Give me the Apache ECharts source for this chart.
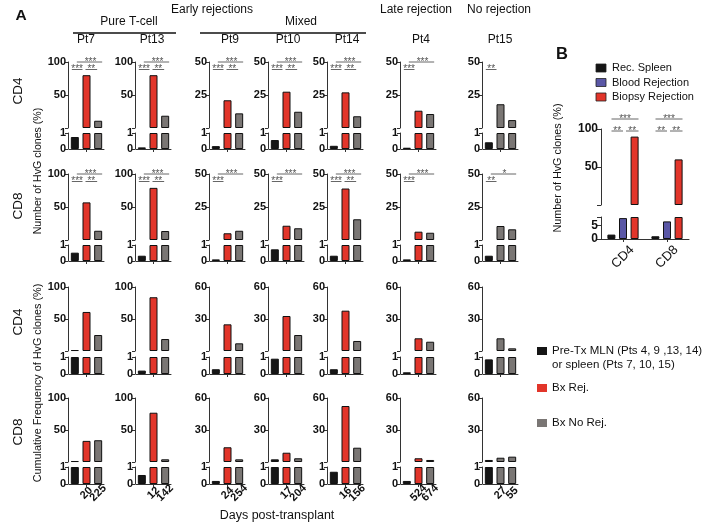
<!DOCTYPE html>
<html><head><meta charset="utf-8">
<script src="https://cdn.jsdelivr.net/npm/echarts@6/dist/echarts.min.js"></script>
<style>html,body{margin:0;padding:0;background:#fff}#c{width:705px;height:530px}</style>
</head><body><div id="c"></div><script>
// ---------- DATA ----------
const patients = ['Pt7','Pt13','Pt9','Pt10','Pt14','Pt4','Pt15'];
// bar order per patient: [pre-Tx MLN / spleen, Bx Rej. (Pt15: Bx No Rej.), Bx No Rej.]
const cd4Number     = [[0.75,80,11],[0.1,80,18.6],[0.18,21,11.1],[0.56,27.5,12.3],[0.2,27,8.9],[0.08,13.1,10.6],[0.42,18,6]];
const cd8Number     = [[0.52,57,14],[0.33,79,13.6],[0.1,5.1,7],[0.73,10.8,8.9],[0.33,39,15.7],[0.1,6.3,5.5],[0.33,10.6,8.1]];
const cd4Cumulative = [[1.5,61,25],[0.2,84,18.7],[0.28,25,7.2],[0.9,32.8,15],[0.28,37.8,9.4],[0.1,11.9,8.7],[0.86,11.9,2.5]];
const cd8Cumulative = [[1.5,33,34],[0.53,77,4.2],[0.18,13.8,2.5],[2.5,8.7,3.5],[0.72,52.5,13.4],[0.18,3.5,1.9],[1.9,4,5]];
const daysPost = [['20','225'],['12','142'],['24','254'],['17','204'],['16','156'],['524','674'],['27','55']];
const numberMax = [100,100,50,50,50,50,50];
const cumulativeMax = [100,100,60,60,60,60,60];
const lowerMax = 1;
// significance: [from, to, stars, level]
const S3 = [[0,2,'***',0],[0,1,'***',1],[1,2,'**',1]];
const S2 = [[0,2,'***',0],[0,1,'***',1]];
const sigCD4Number = [S3,S3,S3,S3,S3,S2,[[0,1,'**',1]]];
const sigCD8Number = [S3,S3,S2,S2,S3,S2,[[0,2,'*',0],[0,1,'**',1]]];
// Panel B
const bCategories = ['CD4','CD8'];
const bSeriesNames = ['Rec. Spleen','Blood Rejection','Biopsy Rejection'];
const bRecSpleen = [1.6,1.0];
const bBloodRejection = [7.6,6.4];
const bBiopsyRejection = [90,60];
const bLowerMax = 8;
const bUpperMax = 100;

// ---------- STYLE / LAYOUT ----------
const FONT = "'Liberation Sans', Arial, Helvetica, sans-serif";
const C = {black:'#151515', red:'#e2352a', gray:'#7a7674', blue:'#5a57a6', axis:'#333'};
const colColors = patients.map((p,i)=> i===6 ? [C.black,C.gray,C.gray] : [C.black,C.red,C.gray]);
const colX = [68,135,209,268,327,400,482];
const rows = [
  {data:cd4Number, max:numberMax, upTop:62, upH:66, loTop:133, loH:16, sig:sigCD4Number},
  {data:cd8Number, max:numberMax, upTop:174, upH:66, loTop:245, loH:16, sig:sigCD8Number},
  {data:cd4Cumulative, max:cumulativeMax, upTop:287, upH:64, loTop:357, loH:17, sig:null},
  {data:cd8Cumulative, max:cumulativeMax, upTop:398, upH:64, loTop:467, loH:17, sig:null, labels:true}
];

const grid=[], xAxis=[], yAxis=[], series=[];
const axisLine = {show:true, lineStyle:{color:C.axis, width:1}};
const barItem = {borderColor:'#111', borderWidth:1};
const refs = [];
rows.forEach((row,r)=>{
  refs.push([]);
  colX.forEach((x,c)=>{
    const vals = row.data[c];
    const max = row.max[c];
    // upper segment
    const gu = grid.length;
    grid.push({left:x+1, top:row.upTop, width:35, height:row.upH});
    xAxis.push({type:'category', gridIndex:gu, data:['a','b','c'], show:false});
    yAxis.push({type:'value', gridIndex:gu, min:0, max:max, interval:max/2, offset:1,
      axisLine, axisTick:{show:true, length:3, lineStyle:{color:C.axis}}, splitLine:{show:false},
      axisLabel:{formatter:v=> v===0?'':String(v), fontSize:11, fontWeight:'bold', color:'#111', margin:2, fontFamily:FONT}});
    series.push({type:'bar', xAxisIndex:gu, yAxisIndex:gu, barWidth:8, silent:true,
      data: vals.map((v,i)=>({value: v>lowerMax ? v : '-', itemStyle:Object.assign({color:colColors[c][i]},barItem)}))});
    // lower segment
    const gl = grid.length;
    grid.push({left:x+1, top:row.loTop, width:35, height:row.loH});
    xAxis.push({type:'category', gridIndex:gl, data: row.labels ? ['',daysPost[c][0],daysPost[c][1]] : ['','',''],
      axisLine, axisTick:{show:true, interval:(i)=>i===1, alignWithLabel:true, length:3, lineStyle:{color:C.axis}},
      axisLabel:{show:!!row.labels, interval:0, rotate:45, align:'center', verticalAlign:'middle',
        fontSize:11, fontWeight:'bold', color:'#111', margin:9, fontFamily:FONT}});
    yAxis.push({type:'value', gridIndex:gl, min:0, max:lowerMax, interval:1, offset:1,
      axisLine, axisTick:{show:true, length:3, lineStyle:{color:C.axis}}, splitLine:{show:false},
      axisLabel:{fontSize:11, fontWeight:'bold', color:'#111', margin:2, fontFamily:FONT}});
    series.push({type:'bar', xAxisIndex:gl, yAxisIndex:gl, barWidth:8, silent:true,
      data: vals.map((v,i)=>({value: Math.min(v,lowerMax), itemStyle:Object.assign({color:colColors[c][i]},barItem)}))});
    refs[r].push({gu, gl, max});
  });
});

// Panel B
const bVals = [bRecSpleen,bBloodRejection,bBiopsyRejection];
const bCols = [C.black,C.blue,C.red];
const bgu = grid.length;
grid.push({left:601, top:129, width:88, height:76});
xAxis.push({type:'category', gridIndex:bgu, data:bCategories, show:false});
yAxis.push({type:'value', gridIndex:bgu, min:0, max:bUpperMax, interval:50,
  axisLine, axisTick:{show:true,length:4,lineStyle:{color:C.axis}}, splitLine:{show:false},
  axisLabel:{formatter:v=> v===0?'':String(v), fontSize:12, fontWeight:'bold', color:'#111', margin:3, fontFamily:FONT}});
const bgl = grid.length;
grid.push({left:601, top:217, width:88, height:22});
xAxis.push({type:'category', gridIndex:bgl, data:bCategories, axisLine,
  axisTick:{show:true, alignWithLabel:true, length:3, lineStyle:{color:C.axis}},
  axisLabel:{rotate:45, align:'center', verticalAlign:'middle', fontSize:13, color:'#111', margin:18, fontFamily:FONT}});
yAxis.push({type:'value', gridIndex:bgl, min:0, max:bLowerMax, interval:5,
  axisLine, axisTick:{show:true,length:4,lineStyle:{color:C.axis}}, splitLine:{show:false},
  axisLabel:{formatter:v=> (v===0||v===5)?String(v):'', fontSize:12, fontWeight:'bold', color:'#111', margin:3, fontFamily:FONT}});
bVals.forEach((arr,k)=>{
  series.push({type:'bar', name:bSeriesNames[k], xAxisIndex:bgu, yAxisIndex:bgu, barWidth:8, barGap:'45%', silent:true,
    itemStyle:Object.assign({color:bCols[k]},barItem), data:arr.map(v=> v>bLowerMax? v : '-')});
  series.push({type:'bar', name:bSeriesNames[k], xAxisIndex:bgl, yAxisIndex:bgl, barWidth:8, barGap:'45%', silent:true,
    itemStyle:Object.assign({color:bCols[k]},barItem), data:arr.map(v=> Math.min(v,bLowerMax))});
});

const option = {animation:false, textStyle:{fontFamily:FONT}, grid, xAxis, yAxis, series};
const chart = echarts.init(document.getElementById('c'), null, {renderer:'canvas'});
chart.setOption(option);

// ---------- ANNOTATIONS ----------
function txt(t,x,y,size,opts){
  opts = opts||{};
  return {type:'text', x, y, rotation:opts.rot||0, silent:true,
    style:{text:t, fontSize:size, fontFamily:FONT, fontWeight:opts.bold?'bold':'normal', fill:opts.fill||'#111',
      align:opts.align||'center', verticalAlign:opts.va||'middle', textAlign:opts.align||'center', textVerticalAlign:opts.va||'middle'}};
}
function ln(x1,y1,x2,y2,w,col){
  return {type:'line', silent:true, shape:{x1,y1,x2,y2}, style:{stroke:col||'#111', lineWidth:w||1}};
}
const g = [];
g.push(txt('A',21,15.5,15.5,{bold:true}));
g.push(txt('Early rejections',212,10,12));
g.push(txt('Late rejection',416,10,12));
g.push(txt('No rejection',499,10,12));
g.push(txt('Pure T-cell',129,21.5,12));
g.push(txt('Mixed',301,21.5,12));
g.push(ln(73,33,176,33,1.5));
g.push(ln(200,33,366,33,1.5));
const ptX = [86,152,230,288,347,421,500];
patients.forEach((p,i)=>g.push(txt(p,ptX[i],39.5,12)));
g.push(txt('CD4',18,91,13.5,{rot:Math.PI/2}));
g.push(txt('CD8',18,206,13.5,{rot:Math.PI/2}));
g.push(txt('CD4',18,322,13.5,{rot:Math.PI/2}));
g.push(txt('CD8',18,432,13.5,{rot:Math.PI/2}));
g.push(txt('Number of HvG clones (%)',38,171,10.6,{rot:Math.PI/2}));
g.push(txt('Cumulative Frequency of HvG clones (%)',38,383,10.8,{rot:Math.PI/2}));
g.push(txt('Days post-transplant',277,516,12.5));
// Main legend
const legA = [[C.black,['Pre-Tx MLN (Pts 4, 9 ,13, 14)','or spleen (Pts 7, 10, 15)'],351],[C.red,['Bx Rej.'],388],[C.gray,['Bx No Rej.'],423]];
legA.forEach(([col,lines,y])=>{
  g.push({type:'rect', silent:true, shape:{x:537,y:y-4,width:10,height:8}, style:{fill:col}});
  lines.forEach((l,k)=>g.push(txt(l,552,y+k*14,11.5,{align:'left'})));
});
// Panel B legend
g.push(txt('B',562,54,16.5,{bold:true}));
bSeriesNames.forEach((n,k)=>{
  const y = 68 + k*14.5;
  g.push({type:'rect', silent:true, shape:{x:596,y:y-4,width:10,height:8}, style:{fill:bCols[k], stroke:'#222', lineWidth:0.8}});
  g.push(txt(n,612,y,11,{align:'left'}));
});
g.push(txt('Number of HvG clones (%)',558,168,10.8,{rot:Math.PI/2}));

// significance bars for panel A
const sigCol = '#555';
rows.forEach((row,r)=>{
  if(!row.sig) return;
  refs[r].forEach((ref,c)=>{
    const xs = [0,1,2].map(i=>chart.convertToPixel({xAxisIndex:ref.gu}, i));
    const yTop = chart.convertToPixel({yAxisIndex:ref.gu}, ref.max);
    row.sig[c].forEach(([a,b,stars,lvl])=>{
      let x1,x2,y;
      if(lvl===0){ x1 = xs[a]+2; x2 = xs[b]+4; y = yTop; }
      else { y = yTop+7.5; if(a===0){ x1 = xs[a]-3; x2 = xs[b]-4; } else { x1 = xs[a]-1; x2 = xs[b]-1; } }
      g.push(ln(x1,y,x2,y,0.9,sigCol));
      g.push(txt(stars,(x1+x2)/2+ (lvl===0?1:0),y+5,10,{fill:sigCol, va:'bottom'}));
    });
  });
});
// significance for panel B
bCategories.forEach((cat,i)=>{
  const xc = chart.convertToPixel({xAxisIndex:bgu}, i);
  const y100 = chart.convertToPixel({yAxisIndex:bgu}, bUpperMax);
  const xb = [xc-11.5, xc, xc+11.5];
  const yT = y100-10, yL = y100+2;
  g.push(ln(xb[0],yT,xb[2]+4,yT,0.9,sigCol));
  g.push(txt('***',(xb[0]+xb[2]+4)/2,yT+5,10,{fill:sigCol,va:'bottom'}));
  g.push(ln(xb[0],yL,xb[1],yL,0.9,sigCol));
  g.push(txt('**',(xb[0]+xb[1])/2,yL+5,10,{fill:sigCol,va:'bottom'}));
  g.push(ln(xb[1]+3,yL,xb[2]+4,yL,0.9,sigCol));
  g.push(txt('**',(xb[1]+3+xb[2]+4)/2,yL+5,10,{fill:sigCol,va:'bottom'}));
});
chart.setOption({graphic:g});
</script></body></html>
